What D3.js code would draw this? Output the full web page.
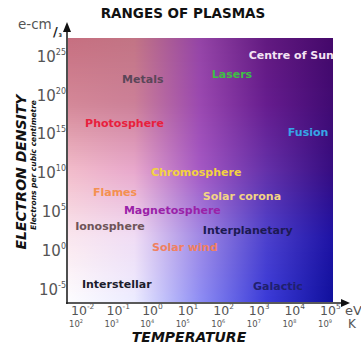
<!DOCTYPE html>
<html><head><meta charset="utf-8">
<script src="https://cdn.jsdelivr.net/npm/d3@7"></script>
<style>html,body{margin:0;padding:0;background:#fff;overflow:hidden}</style>
</head><body>
<svg id="c" width="361" height="347"></svg>
<script>
// ---- data ----
const eVExponents = [-2, -1, 0, 1, 2, 3, 4, 5];
const kelvinExponents = [2, 3, 4, 5, 6, 7, 8, 9];
const densityExponents = [-5, 0, 5, 10, 15, 20, 25];
const plasmaNames = ["Centre of Sun","Lasers","Metals","Photosphere","Fusion","Chromosphere","Flames","Solar corona","Magnetosphere","Ionosphere","Interplanetary","Solar wind","Interstellar","Galactic"];
const plasmaTempExp = [2.80, 1.76, -0.76, -1.80, 3.90, 0.05, -1.58, 1.51, -0.71, -2.08, 1.51, 0.08, -1.89, 2.92];
const plasmaDensExp = [25.1, 22.7, 22.0, 16.4, 15.2, 10.1, 7.5, 7.0, 5.2, 3.1, 2.6, 0.4, -4.3, -4.6];
// ---- styles ----
const plasmaColors = ["#f4e4f4","#3fbf45","#5a4658","#e8203c","#36a6e6","#f2d240","#f49050","#f2d484","#9a22a8","#6e5458","#1c1a52","#f08060","#1c1c2c","#20206e"];
const bgCols = [0, .25, .5, .75, 1];
const bgRows = [
  ["#c66f80","#c27484","#9444a6","#621a80","#44086a"],
  ["#d48898","#cc8098","#9a48b0","#661c8e","#400a72"],
  ["#f2bcca","#e8a8cc","#a458c4","#6430a8","#360c80"],
  ["#fae6ee","#f0dcf4","#a088e4","#4c40cc","#1e12a4"],
  ["#fdfdff","#ececff","#8c8cf4","#3a3ad8","#10109c"]
];

const svg = d3.select("#c");
const font = "DejaVu Sans, Verdana, sans-serif";
const L = 68, R = 333, T = 38, B = 302;

const x = d3.scaleLog().domain([1e-2, 1e5]).range([78, 327]);
const y = d3.scaleLog().domain([1e-5, 1e25]).range([289, 56]);

// background gradient (bilinear-ish via strips)
const defs = svg.append("defs");
const strip = 2;
const nStrips = Math.ceil((B - T) / strip);
const colInterp = bgCols.map((c, i) => d3.piecewise(d3.interpolateRgb, bgRows.map(r => r[i])));
const bg = svg.append("g");
for (let s = 0; s < nStrips; s++) {
  const t = (s + 0.5) / nStrips;
  const g = defs.append("linearGradient").attr("id", "g" + s).attr("x1", 0).attr("x2", 1).attr("y1", 0).attr("y2", 0);
  bgCols.forEach((c, i) => g.append("stop").attr("offset", c).attr("stop-color", colInterp[i](t)));
  bg.append("rect").attr("x", L).attr("y", T + s * strip).attr("width", R - L)
    .attr("height", Math.min(strip + 0.6, B - (T + s * strip))).attr("fill", "url(#g" + s + ")");
}
defs.append("clipPath").attr("id", "plotclip").append("rect").attr("x", L).attr("y", T).attr("width", R - L).attr("height", B - T);

// plasma labels
svg.append("g").attr("clip-path", "url(#plotclip)")
  .selectAll("text").data(plasmaNames).join("text")
  .attr("x", (d, i) => x(Math.pow(10, plasmaTempExp[i])))
  .attr("y", (d, i) => y(Math.pow(10, plasmaDensExp[i])))
  .attr("dy", "0.36em")
  .attr("font-family", font).attr("font-weight", "bold").attr("font-size", 11)
  .attr("fill", (d, i) => plasmaColors[i]).text(d => d);

// axes
svg.append("line").attr("x1", L - 1).attr("x2", L - 1).attr("y1", B + 2).attr("y2", 30).attr("stroke", "#222").attr("stroke-width", 1.6);
svg.append("path").attr("d", `M${L-1},22 L${L-5},32 L${L+3},32 Z`).attr("fill", "#111");
svg.append("line").attr("x1", L - 2).attr("x2", 343).attr("y1", B + 1).attr("y2", B + 1).attr("stroke", "#222").attr("stroke-width", 1.6);
svg.append("path").attr("d", `M350,${B+1} L341,${B-3} L341,${B+5} Z`).attr("fill", "#111");

// y tick labels
const yl = svg.append("g").selectAll("text").data(densityExponents).join("text")
  .attr("x", 66).attr("y", d => y(Math.pow(10, d))).attr("dy", "0.36em")
  .attr("text-anchor", "end").attr("font-family", font).attr("fill", "#555");
yl.append("tspan").attr("font-size", 15).text("10");
yl.append("tspan").attr("font-size", 8).attr("dy", -7).text(d => d < 0 ? "-" + (-d) : d);

// x tick labels (eV)
const xl = svg.append("g").selectAll("text").data(eVExponents).join("text")
  .attr("x", d => x(Math.pow(10, d)) - 7).attr("y", 315)
  .attr("font-family", font).attr("fill", "#555");
xl.append("tspan").attr("font-size", 12.5).text("10");
xl.append("tspan").attr("font-size", 7.5).attr("dy", -6).text(d => d < 0 ? "-" + (-d) : d);
svg.append("text").attr("x", 345).attr("y", 315).attr("font-family", font).attr("font-size", 13).attr("fill", "#555").text("eV");

// x tick labels (K)
const kl = svg.append("g").selectAll("text").data(kelvinExponents).join("text")
  .attr("x", (d, i) => x(Math.pow(10, eVExponents[i])) - 9).attr("y", 327)
  .attr("font-family", font).attr("fill", "#555");
kl.append("tspan").attr("font-size", 8.5).text("10");
kl.append("tspan").attr("font-size", 5).attr("dy", -4).text(d => d);
svg.append("text").attr("x", 348).attr("y", 328).attr("font-family", font).attr("font-size", 12).attr("fill", "#555").text("K");

// titles
svg.append("text").attr("x", 183).attr("y", 18).attr("text-anchor", "middle").attr("font-family", font)
  .attr("font-weight", "bold").attr("font-size", 13.5).attr("fill", "#111").text("RANGES OF PLASMAS");
svg.append("text").attr("x", 189).attr("y", 342).attr("text-anchor", "middle").attr("font-family", font)
  .attr("font-weight", "bold").attr("font-style", "italic").attr("font-size", 14).attr("fill", "#111").text("TEMPERATURE");
svg.append("text").attr("transform", "translate(26,172) rotate(-90)").attr("text-anchor", "middle").attr("font-family", font)
  .attr("font-weight", "bold").attr("font-style", "italic").attr("font-size", 14).attr("fill", "#111").text("ELECTRON DENSITY");
svg.append("text").attr("transform", "translate(36,165) rotate(-90)").attr("text-anchor", "middle").attr("font-family", font)
  .attr("font-weight", "bold").attr("font-style", "italic").attr("font-size", 7.5).attr("fill", "#111").text("Electrons per cubic centimetre");

// unit e-cm
svg.append("text").attr("x", 18).attr("y", 29).attr("font-family", font).attr("font-size", 13.5).attr("fill", "#555").text("e-cm");
svg.append("text").attr("x", 53).attr("y", 36).attr("font-family", font).attr("font-weight", "bold").attr("font-size", 13).attr("fill", "#222").text("/");
svg.append("text").attr("x", 58.5).attr("y", 37).attr("font-family", font).attr("font-weight", "bold").attr("font-size", 5).attr("fill", "#222").text("3");
</script>
</body></html>
